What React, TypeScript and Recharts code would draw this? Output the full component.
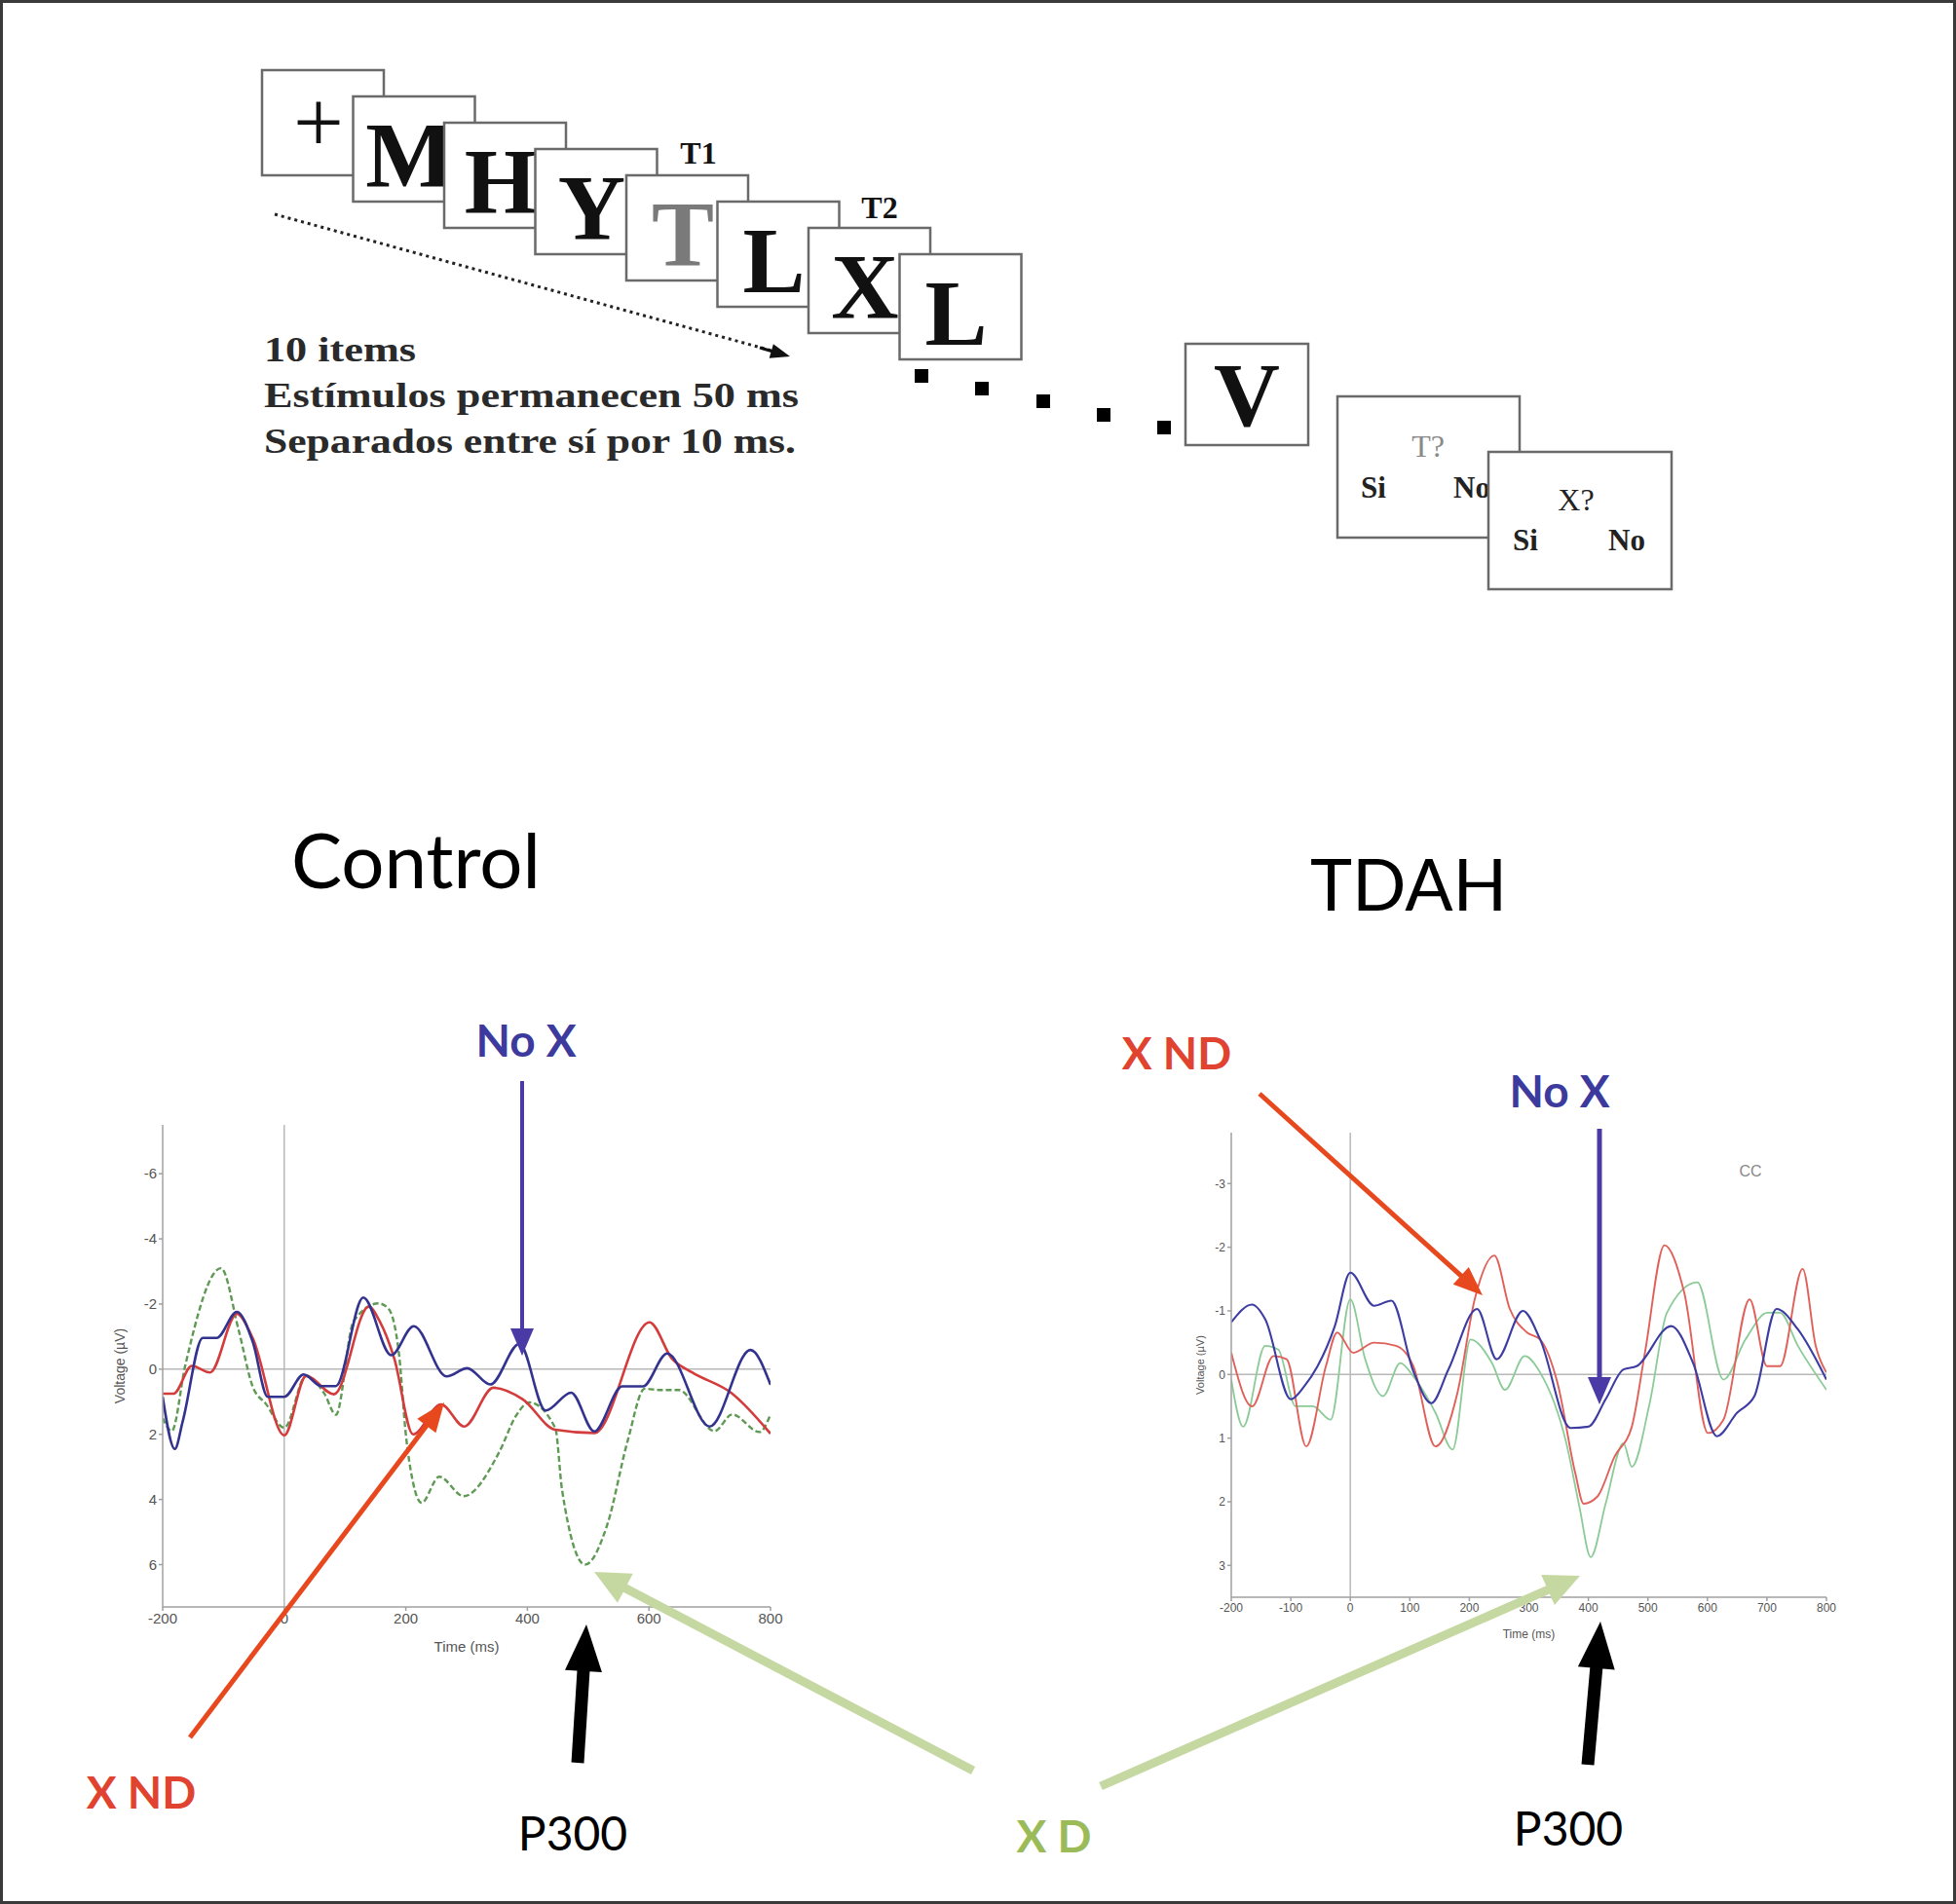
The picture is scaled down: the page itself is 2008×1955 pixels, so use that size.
import React from 'react';
import { LineChart, Line, XAxis, YAxis, ReferenceLine, Label } from 'recharts';

// axis ticks
const ctrlTimeTicks = [-200, 0, 200, 400, 600, 800];
const tdahTimeTicks = [-200, -100, 0, 100, 200, 300, 400, 500, 600, 700, 800];
const ctrlVoltTicks = [-6, -4, -2, 0, 2, 4, 6];
const tdahVoltTicks = [-3, -2, -1, 0, 1, 2, 3];

// Control group, No X (blue)
const ctrlNoXTime = [-200, -180, -167, -134, -111, -78, -52, -27, 0, 32, 61, 85, 130, 176, 213, 267, 301, 339, 387, 430, 472, 510, 556, 590, 630, 700, 767, 800];
const ctrlNoXVolt = [0.85, 2.45, 1.6, -0.96, -0.96, -1.76, -0.85, 0.85, 0.85, 0.16, 0.52, 0.52, -2.2, -0.43, -1.32, 0.22, -0.03, 0.47, -0.78, 1.27, 0.72, 1.91, 0.53, 0.53, -0.48, 1.76, -0.59, 0.48];

// Control group, X ND (red)
const ctrlXndTime = [-200, -182, -152, -122, -78, -52, 0, 36, 82, 139, 157, 181, 212, 258, 296, 344, 392, 446, 510, 601, 638, 671, 737, 800];
const ctrlXndVolt = [0.75, 0.75, -0.1, 0.1, -1.7, -0.96, 2.03, 0.21, 0.77, -1.92, -1.47, -0.33, 2.0, 1.08, 1.76, 0.57, 0.92, 1.86, 1.96, -1.44, -0.32, 0.1, 0.75, 1.98];

// Control group, X D (green)
const ctrlXdTime = [-200, -185, -163, -104, -75, -52, -30, 0, 36, 66, 85, 114, 155, 171, 189, 200, 211, 226, 255, 295, 353, 382, 403, 446, 457, 495, 531, 565, 593, 619, 649, 708, 737, 782, 800];
const ctrlXdVolt = [1.5, 1.9, -0.1, -3.1, -1.2, 0.53, 1.07, 1.8, 0.2, 0.75, 1.4, -1.47, -2.02, -1.87, -0.43, 2.0, 3.4, 4.1, 3.3, 3.9, 2.57, 1.41, 1.02, 1.81, 3.7, 6.0, 4.8, 2.2, 0.6, 0.64, 0.64, 1.9, 1.39, 1.93, 1.39];

// TDAH group, No X (blue)
const tdahNoXTime = [-200, -165, -143, -100, -77, -55, -26, 0, 40, 69, 106, 136, 165, 213, 246, 290, 319, 370, 400, 429, 459, 481, 539, 576, 616, 650, 679, 716, 752, 800];
const tdahNoXVolt = [-0.82, -1.1, -0.87, 0.39, 0.18, -0.13, -0.76, -1.6, -1.08, -1.16, -0.05, 0.45, -0.08, -1.03, -0.24, -1.0, -0.55, 0.84, 0.82, 0.39, -0.08, -0.13, -0.76, -0.18, 0.97, 0.6, 0.34, -1.03, -0.71, 0.08];

// TDAH group, X ND (red)
const tdahXndTime = [-200, -165, -129, -107, -74, -41, -22, 5, 40, 77, 106, 143, 180, 209, 242, 268, 297, 319, 348, 378, 392, 415, 444, 473, 495, 528, 561, 601, 627, 671, 700, 722, 760, 782, 800];
const tdahXndVolt = [-0.34, 0.5, -0.29, -0.24, 1.13, -0.13, -0.66, -0.34, -0.5, -0.45, -0.13, 1.13, 0.29, -1.18, -1.87, -1.03, -0.66, -0.55, 0.13, 1.55, 2.03, 1.92, 1.29, 0.82, -0.34, -2.03, -1.29, 0.92, 0.71, -1.18, -0.13, -0.13, -1.66, -0.45, -0.03];

// TDAH group, X D (green)
const tdahXdTime = [-200, -180, -143, -121, -92, -63, -33, 0, 25, 55, 84, 106, 143, 172, 202, 238, 260, 293, 319, 363, 385, 404, 429, 459, 473, 503, 532, 583, 627, 664, 701, 722, 752, 800];
const tdahXdVolt = [0.08, 0.82, -0.45, -0.39, 0.5, 0.5, 0.71, -1.18, -0.24, 0.34, -0.18, 0.03, 0.6, 1.18, -0.55, -0.18, 0.24, -0.29, -0.03, 1.08, 2.08, 2.87, 2.03, 1.08, 1.45, 0.45, -0.97, -1.45, 0.08, -0.55, -0.97, -0.97, -0.45, 0.24];

// RSVP stream shown above the plots
const streamLetters = ['+', 'M', 'H', 'Y', 'T', 'L', 'X', 'L'];
const streamNotes = ['10 items', 'Estímulos permanecen 50 ms', 'Separados entre sí por 10 ms.'];

const toPoints = (t: number[], v: number[]) => t.map((x, i) => ({ t: x, v: v[i] }));

type Series = { name: string; data: { t: number; v: number }[]; color: string; width: number; dash?: string };

interface PanelProps {
  left: number;
  top: number;
  width: number;
  height: number;
  margin: { top: number; right: number; bottom: number; left: number };
  xAxisHeight: number;
  yDomain: [number, number];
  xTicks: number[];
  yTicks: number[];
  series: Series[];
  fontSize: number;
  yLabelDx: number;
  xLabelOffset: number;
}

const tickFont = 'Liberation Sans, Arial, sans-serif';

const ErpPanel: React.FC<PanelProps> = (p) => (
  <div style={{ position: 'absolute', left: p.left, top: p.top }}>
    <LineChart width={p.width} height={p.height} margin={p.margin}>
      <XAxis
        type="number"
        dataKey="t"
        domain={[-200, 800]}
        ticks={p.xTicks}
        interval={0}
        height={p.xAxisHeight}
        allowDataOverflow
        stroke="#a0a0a0"
        strokeWidth={1.5}
        tickSize={4}
        tickMargin={2}
        tick={{ fill: '#555', fontSize: p.fontSize, fontFamily: tickFont }}
      >
        <Label value="Time (ms)" position="insideBottom" offset={p.xLabelOffset} fill="#555" fontSize={p.fontSize} fontFamily={tickFont} />
      </XAxis>
      <YAxis
        type="number"
        dataKey="v"
        domain={p.yDomain}
        reversed
        ticks={p.yTicks}
        interval={0}
        width={40}
        allowDataOverflow
        stroke="#a0a0a0"
        strokeWidth={1.5}
        tickSize={4}
        tickMargin={2}
        tick={{ fill: '#555', fontSize: p.fontSize, fontFamily: tickFont }}
      >
        <Label
          content={(lp: any) => {
            const vb = lp.viewBox || { x: 0, y: 0, width: 0, height: 0 };
            const cx = vb.x + p.yLabelDx;
            const cy = vb.y + vb.height / 2;
            return (
              <text
                x={cx}
                y={cy}
                transform={`rotate(-90 ${cx} ${cy})`}
                textAnchor="middle"
                dominantBaseline="central"
                fill="#555"
                fontSize={p.fontSize - 1}
                fontFamily={tickFont}
              >
                Voltage (µV)
              </text>
            );
          }}
        />
      </YAxis>
      <ReferenceLine x={0} stroke="#b8b8b8" strokeWidth={1.5} />
      <ReferenceLine y={0} stroke="#b8b8b8" strokeWidth={1.5} />
      {p.series.map((s) => (
        <Line
          key={s.name}
          name={s.name}
          data={s.data}
          dataKey="v"
          type="monotone"
          stroke={s.color}
          strokeWidth={s.width}
          strokeDasharray={s.dash}
          dot={false}
          activeDot={false}
          isAnimationActive={false}
        />
      ))}
    </LineChart>
  </div>
);

interface ArrowProps {
  x1: number;
  y1: number;
  x2: number;
  y2: number;
  color: string;
  w: number;
  hl: number;
  hw: number;
}

const Arrow: React.FC<ArrowProps> = ({ x1, y1, x2, y2, color, w, hl, hw }) => {
  const dx = x2 - x1;
  const dy = y2 - y1;
  const len = Math.hypot(dx, dy);
  const ux = dx / len;
  const uy = dy / len;
  const bx = x2 - ux * hl;
  const by = y2 - uy * hl;
  const px = -uy;
  const py = ux;
  const pts = `${x2},${y2} ${bx + (px * hw) / 2},${by + (py * hw) / 2} ${bx - (px * hw) / 2},${by - (py * hw) / 2}`;
  return (
    <g>
      <line x1={x1} y1={y1} x2={bx + ux * 2} y2={by + uy * 2} stroke={color} strokeWidth={w} />
      <polygon points={pts} fill={color} />
    </g>
  );
};

const serif = 'Liberation Serif, Times New Roman, serif';
const sans = 'Lato, Carlito, Open Sans, sans-serif';

const StreamDiagram: React.FC = () => {
  const bw = 125;
  const bh = 108;
  return (
    <g>
      {streamLetters.map((ch, i) => {
        const x = 269 + 93.5 * i;
        const y = 72 + 27 * i;
        return (
          <g key={i}>
            <rect x={x} y={y} width={bw} height={bh} fill="#fff" stroke="#6a6a6a" strokeWidth={2.5} />
            {ch === '+' ? (
              <text x={x + 58} y={y + 84} textAnchor="middle" fontFamily={serif} fontSize={92} fill="#111">
                +
              </text>
            ) : (
              <text
                x={x + 58}
                y={y + 93}
                textAnchor="middle"
                fontFamily={serif}
                fontWeight="bold"
                fontSize={96}
                fill={ch === 'T' ? '#7a7a7a' : '#111'}
              >
                {ch}
              </text>
            )}
          </g>
        );
      })}
      <text x={717} y={168} textAnchor="middle" fontFamily={serif} fontWeight="bold" fontSize={32} fill="#111">
        T1
      </text>
      <text x={903} y={224} textAnchor="middle" fontFamily={serif} fontWeight="bold" fontSize={32} fill="#111">
        T2
      </text>
      <line x1={282} y1={220} x2={796} y2={361} stroke="#222" strokeWidth={3} strokeDasharray="3 4" />
      <Arrow x1={780} y1={357} x2={811} y2={366} color="#111" w={3} hl={20} hw={15} />
      {streamNotes.map((s, i) => (
        <text
          key={s}
          x={271}
          y={371 + 47 * i}
          fontFamily={serif}
          fontWeight="bold"
          fontSize={35}
          fill="#2a2a2a"
          textLength={[156, 549, 546][i]}
          lengthAdjust="spacingAndGlyphs"
        >
          {s}
        </text>
      ))}
      {[
        [946, 386],
        [1008, 399],
        [1071, 412],
        [1133, 426],
        [1195, 439],
      ].map(([cx, cy], i) => (
        <rect key={i} x={cx - 7} y={cy - 7} width={14} height={14} fill="#000" />
      ))}
      <rect x={1217} y={353} width={126} height={104} fill="#fff" stroke="#6a6a6a" strokeWidth={2.5} />
      <text x={1280} y={437} textAnchor="middle" fontFamily={serif} fontWeight="bold" fontSize={94} fill="#111">
        V
      </text>
      <rect x={1373} y={407} width={187} height={145} fill="#fff" stroke="#6a6a6a" strokeWidth={2.5} />
      <text x={1466} y={469} textAnchor="middle" fontFamily={serif} fontSize={32} fill="#8a8a8a">
        T?
      </text>
      <text x={1410} y={511} textAnchor="middle" fontFamily={serif} fontWeight="bold" fontSize={31} fill="#222">
        Si
      </text>
      <text x={1511} y={511} textAnchor="middle" fontFamily={serif} fontWeight="bold" fontSize={31} fill="#222">
        No
      </text>
      <rect x={1528} y={464} width={188} height={141} fill="#fff" stroke="#6a6a6a" strokeWidth={2.5} />
      <text x={1618} y={524} textAnchor="middle" fontFamily={serif} fontSize={32} fill="#222">
        X?
      </text>
      <text x={1566} y={565} textAnchor="middle" fontFamily={serif} fontWeight="bold" fontSize={31} fill="#222">
        Si
      </text>
      <text x={1670} y={565} textAnchor="middle" fontFamily={serif} fontWeight="bold" fontSize={31} fill="#222">
        No
      </text>
    </g>
  );
};

const Annotations: React.FC = () => (
  <g>
    <text x={299} y={912} fontFamily={sans} fontSize={78} fill="#000">
      Control
    </text>
    <text x={1345} y={935} fontFamily={sans} fontSize={73} fill="#000">
      TDAH
    </text>
    <text x={1797} y={1208} textAnchor="middle" fontFamily={tickFont} fontSize={16} fill="#888">
      CC
    </text>

    <text x={540} y={1085} textAnchor="middle" fontFamily={sans} fontWeight="bold" fontSize={46} fill="#3d3a9e">
      No X
    </text>
    <text x={145} y={1857} textAnchor="middle" fontFamily={sans} fontWeight="bold" fontSize={46} fill="#e0432f">
      X ND
    </text>
    <text x={588} y={1900} textAnchor="middle" fontFamily={sans} fontSize={48} fill="#000">
      P300
    </text>
    <text x={1082} y={1902} textAnchor="middle" fontFamily={sans} fontWeight="bold" fontSize={46} fill="#9bbb59">
      X D
    </text>
    <text x={1208} y={1098} textAnchor="middle" fontFamily={sans} fontWeight="bold" fontSize={46} fill="#e0432f">
      X ND
    </text>
    <text x={1601} y={1137} textAnchor="middle" fontFamily={sans} fontWeight="bold" fontSize={46} fill="#3d3a9e">
      No X
    </text>
    <text x={1610} y={1895} textAnchor="middle" fontFamily={sans} fontSize={48} fill="#000">
      P300
    </text>

    <Arrow x1={536} y1={1110} x2={536} y2={1392} color="#4a3aa6" w={4} hl={28} hw={24} />
    <Arrow x1={195} y1={1784} x2={456} y2={1440} color="#e8481e" w={5} hl={30} hw={24} />
    <Arrow x1={593} y1={1810} x2={602} y2={1668} color="#000" w={13} hl={48} hw={38} />
    <Arrow x1={1293} y1={1123} x2={1522} y2={1330} color="#e8481e" w={5} hl={30} hw={24} />
    <Arrow x1={1642} y1={1159} x2={1642} y2={1442} color="#4a3aa6" w={5} hl={28} hw={24} />
    <Arrow x1={1630} y1={1812} x2={1643} y2={1665} color="#000" w={13} hl={48} hw={38} />
    <Arrow x1={999} y1={1818} x2={610} y2={1614} color="#c6d8a2" w={9} hl={36} hw={34} />
    <Arrow x1={1130} y1={1834} x2={1622} y2={1618} color="#c6d8a2" w={9} hl={36} hw={34} />
  </g>
);

const App: React.FC = () => {
  const ctrlSeries: Series[] = [
    { name: 'X D', data: toPoints(ctrlXdTime, ctrlXdVolt), color: '#5f9a55', width: 2.4, dash: '6 3' },
    { name: 'X ND', data: toPoints(ctrlXndTime, ctrlXndVolt), color: '#d43c3c', width: 2.6 },
    { name: 'No X', data: toPoints(ctrlNoXTime, ctrlNoXVolt), color: '#33338f', width: 2.6 },
  ];
  const tdahSeries: Series[] = [
    { name: 'X D', data: toPoints(tdahXdTime, tdahXdVolt), color: '#8ccb98', width: 1.8 },
    { name: 'X ND', data: toPoints(tdahXndTime, tdahXndVolt), color: '#e0605a', width: 1.9 },
    { name: 'No X', data: toPoints(tdahNoXTime, tdahNoXVolt), color: '#3c3ca2', width: 2.1 },
  ];

  return (
    <div
      style={{
        position: 'relative',
        width: 2008,
        height: 1955,
        background: '#fff',
        border: '3px solid #3a3a3a',
        boxSizing: 'border-box',
        overflow: 'hidden',
      }}
    >
      <style>{'body{margin:0;}'}</style>
      <ErpPanel
        left={97}
        top={1137}
        width={720}
        height={580}
        margin={{ top: 15, right: 29, left: 27, bottom: 10 }}
        xAxisHeight={60}
        yDomain={[-7.5, 7.3]}
        xTicks={ctrlTimeTicks}
        yTicks={ctrlVoltTicks}
        series={ctrlSeries}
        fontSize={15}
        yLabelDx={-4}
        xLabelOffset={14}
      />
      <ErpPanel
        left={1197}
        top={1137}
        width={720}
        height={560}
        margin={{ top: 23, right: 45, left: 24, bottom: 10 }}
        xAxisHeight={50}
        yDomain={[-3.8, 3.5]}
        xTicks={tdahTimeTicks}
        yTicks={tdahVoltTicks}
        series={tdahSeries}
        fontSize={12}
        yLabelDx={8}
        xLabelOffset={8}
      />
      <svg
        width={2008}
        height={1955}
        style={{ position: 'absolute', left: -3, top: -3, pointerEvents: 'none' }}
      >
        <StreamDiagram />
        <Annotations />
      </svg>
    </div>
  );
};

export default App;
